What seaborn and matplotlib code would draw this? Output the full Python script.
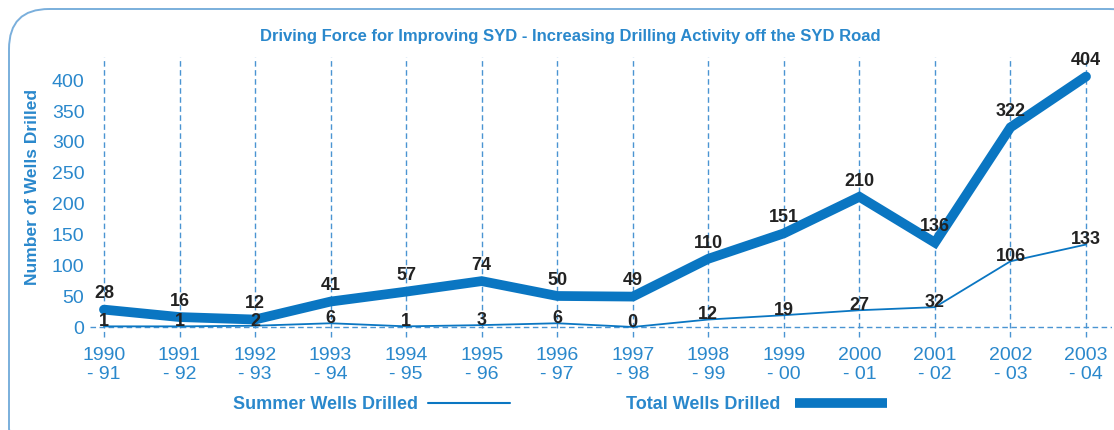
import matplotlib
matplotlib.use("Agg")
import matplotlib.pyplot as plt
from matplotlib.patches import FancyBboxPatch
from matplotlib.lines import Line2D
import seaborn as sns
import pandas as pd

# Drilling seasons and well counts
seasons = ["1990\n- 91", "1991\n- 92", "1992\n- 93", "1993\n- 94", "1994\n- 95",
           "1995\n- 96", "1996\n- 97", "1997\n- 98", "1998\n- 99", "1999\n- 00",
           "2000\n- 01", "2001\n- 02", "2002\n- 03", "2003\n- 04"]
summer_wells = [1, 1, 2, 6, 1, 3, 6, 0, 12, 19, 27, 32, 106, 133]
total_wells = [28, 16, 12, 41, 57, 74, 50, 49, 110, 151, 210, 136, 322, 404]
y_ticks = [0, 50, 100, 150, 200, 250, 300, 350, 400]

sns.set_theme(style="white")
FONT = ["Liberation Sans", "DejaVu Sans"]
plt.rcParams["font.family"] = FONT

BLUE = "#0a76c2"
TEXT_BLUE = "#2a88cc"
GRID_BLUE = "#4a94d2"
FRAME_BLUE = "#7aafdc"

W, H = 1114, 431
fig = plt.figure(figsize=(W / 100, H / 100), dpi=100)

# Full-figure overlay in pixel units for the rounded frame and the legend
bg = fig.add_axes([0, 0, 1, 1], zorder=0)
bg.set_xlim(0, W)
bg.set_ylim(H, 0)
bg.axis("off")
bg.add_patch(FancyBboxPatch((9, 10), 1140, 460,
                            boxstyle="round,pad=0,rounding_size=40",
                            fill=False, edgecolor=FRAME_BLUE, linewidth=1.4))

ax = fig.add_axes([90 / W, (H - 340) / H, 1022 / W, 282 / H], zorder=1)
ax.set_facecolor("none")

df = pd.DataFrame({"idx": range(len(seasons)),
                   "summer": summer_wells, "total": total_wells})

# Dashed guide lines at each season and along zero
for i in range(len(seasons)):
    ax.plot([i, i], [-16, 436], color=GRID_BLUE, lw=1.0,
            ls=(0, (4, 2.5)), zorder=1, clip_on=False)
ax.axhline(0, color=GRID_BLUE, lw=1.0, ls=(0, (4, 2.5)), zorder=1)

sns.lineplot(data=df, x="idx", y="summer", ax=ax, color=BLUE, lw=1.3,
             zorder=3, legend=False)
sns.lineplot(data=df, x="idx", y="total", ax=ax, color=BLUE, lw=7,
             zorder=3, legend=False, solid_joinstyle="miter")

for i, v in enumerate(summer_wells):
    ax.annotate(str(v), (i, v), xytext=(0, 4), textcoords="offset points",
                ha="center", va="center", fontsize=13, fontweight="bold",
                color="#222222", zorder=4)
for i, v in enumerate(total_wells):
    ax.annotate(str(v), (i, v), xytext=(0, 12), textcoords="offset points",
                ha="center", va="center", fontsize=13, fontweight="bold",
                color="#222222", zorder=4)

ax.set_xlim(-0.185, 13.344)
ax.set_ylim(-19.4, 435.5)
ax.set_xticks(range(len(seasons)))
ax.set_xticklabels(seasons, fontsize=14, color=TEXT_BLUE, linespacing=1.15)
ax.set_yticks(y_ticks)
ax.set_yticklabels([str(t) for t in y_ticks], fontsize=14, color=TEXT_BLUE)
ax.tick_params(axis="both", length=0)
ax.tick_params(axis="x", pad=5)
ax.tick_params(axis="y", pad=4)
for s in ax.spines.values():
    s.set_visible(False)
ax.set_xlabel("")
ax.set_ylabel("Number of Wells Drilled", fontsize=12.5, fontweight="bold",
              color=TEXT_BLUE)
ax.yaxis.set_label_coords(-0.049, 0.543)

fig.text(570 / W, 1 - 37 / H,
         "Driving Force for Improving SYD - Increasing Drilling Activity off the SYD Road",
         ha="center", va="center", fontsize=12, fontweight="bold", color=TEXT_BLUE)

# Legend: label text followed by a line sample
bg.text(418, 405, "Summer Wells Drilled", ha="right", va="center",
        fontsize=13, fontweight="bold", color=TEXT_BLUE)
bg.add_line(Line2D([428, 510], [404, 404], color=BLUE, lw=1.5))
bg.text(780, 405, "Total Wells Drilled", ha="right", va="center",
        fontsize=13, fontweight="bold", color=TEXT_BLUE)
bg.add_line(Line2D([795, 887], [404, 404], color=BLUE, lw=7,
                   solid_capstyle="butt"))

fig.savefig("out.png", dpi=100)
